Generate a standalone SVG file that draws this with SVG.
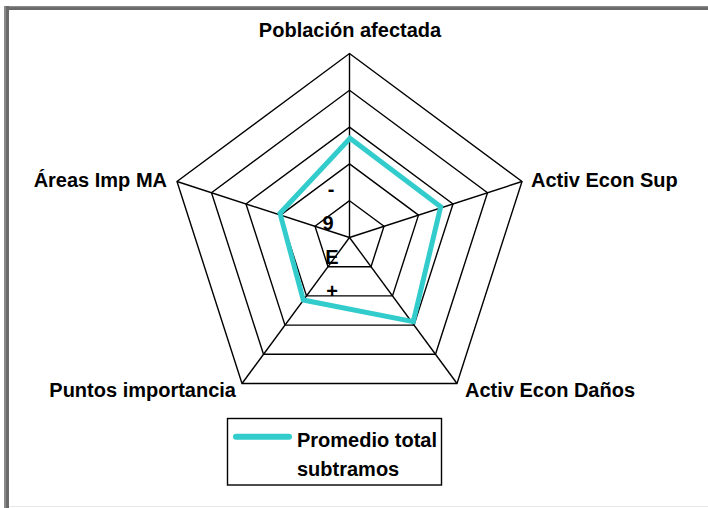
<svg xmlns="http://www.w3.org/2000/svg" width="708" height="508" viewBox="0 0 708 508">
<style>
.lbl{font-family:"Liberation Sans",Arial,sans-serif;font-weight:bold;font-size:20px;fill:#000}
.tick{font-family:"Liberation Sans",Arial,sans-serif;font-weight:bold;font-size:20px;fill:#000;text-anchor:middle}
.grid{fill:none;stroke:#000;stroke-width:1.4}
.series{fill:none;stroke:#33CCCC;stroke-width:5;stroke-linejoin:miter}
</style>
<rect x="0" y="0" width="708" height="508" fill="#fff"/>
<g id="frame">
<rect x="4" y="6" width="704" height="4" fill="#6a6a6a"/>
<rect x="4" y="6" width="704" height="1.2" fill="#8a8a8a"/>
<rect x="4" y="6" width="5" height="502" fill="#6a6a6a"/>
<rect x="4" y="6" width="2" height="502" fill="#8a8a8a"/>
<line x1="9" y1="506.5" x2="708" y2="506.5" stroke="#e8e8e8" stroke-width="1.2"/>
</g>
<g id="grid">
<polygon class="grid" points="349.5,200.7 384,226.3 371,266.7 328,266.7 315,226.3"/>
<polygon class="grid" points="349.5,163.9 418.5,215.1 392.5,295.9 306.5,295.9 280.5,215.1"/>
<polygon class="grid" points="349.5,127.1 453,203.9 414,325.1 285,325.1 246,203.9"/>
<polygon class="grid" points="349.5,90.3 487.5,192.7 435.5,354.3 263.5,354.3 211.5,192.7"/>
<polygon class="grid" points="349.5,53.5 522,181.5 457,383.5 242,383.5 177,181.5"/>
</g>
<g id="connectors">
<line class="grid" x1="349.5" y1="237.5" x2="349.5" y2="53.5"/>
<line class="grid" x1="349.5" y1="237.5" x2="522" y2="181.5"/>
<line class="grid" x1="349.5" y1="237.5" x2="457" y2="383.5"/>
<line class="grid" x1="349.5" y1="237.5" x2="242" y2="383.5"/>
<line class="grid" x1="349.5" y1="237.5" x2="177" y2="181.5"/>
</g>
<g id="ticks">
<text class="tick" x="331" y="196">-</text>
<text class="tick" x="328" y="230" font-size="22">9</text>
<text class="tick" x="332" y="264">E</text>
<text class="tick" x="332" y="298">+</text>
</g>
<g id="series">
<polygon class="series" points="350,138.3 440.7,206.7 413.3,321.7 303.3,300 280,213.3"/>
</g>
<g id="node-poblacion"><text class="lbl" x="350" y="37" text-anchor="middle">Población afectada</text></g>
<g id="node-activ-sup"><text class="lbl" x="531" y="187">Activ Econ Sup</text></g>
<g id="node-activ-danos"><text class="lbl" x="465" y="397">Activ Econ Daños</text></g>
<g id="node-puntos"><text class="lbl" x="236" y="397" text-anchor="end">Puntos importancia</text></g>
<g id="node-areas"><text class="lbl" x="167" y="187" text-anchor="end">Áreas Imp MA</text></g>
<g id="legend">
<rect x="227.5" y="418.5" width="214" height="66.5" fill="#fff" stroke="#000" stroke-width="1.4"/>
<line x1="236" y1="436.7" x2="289" y2="436.7" stroke="#33CCCC" stroke-width="6" stroke-linecap="round"/>
<text class="lbl" x="297" y="447" font-size="18.5">Promedio total</text>
<text class="lbl" x="297" y="476" font-size="18.5">subtramos</text>
</g>
</svg>
